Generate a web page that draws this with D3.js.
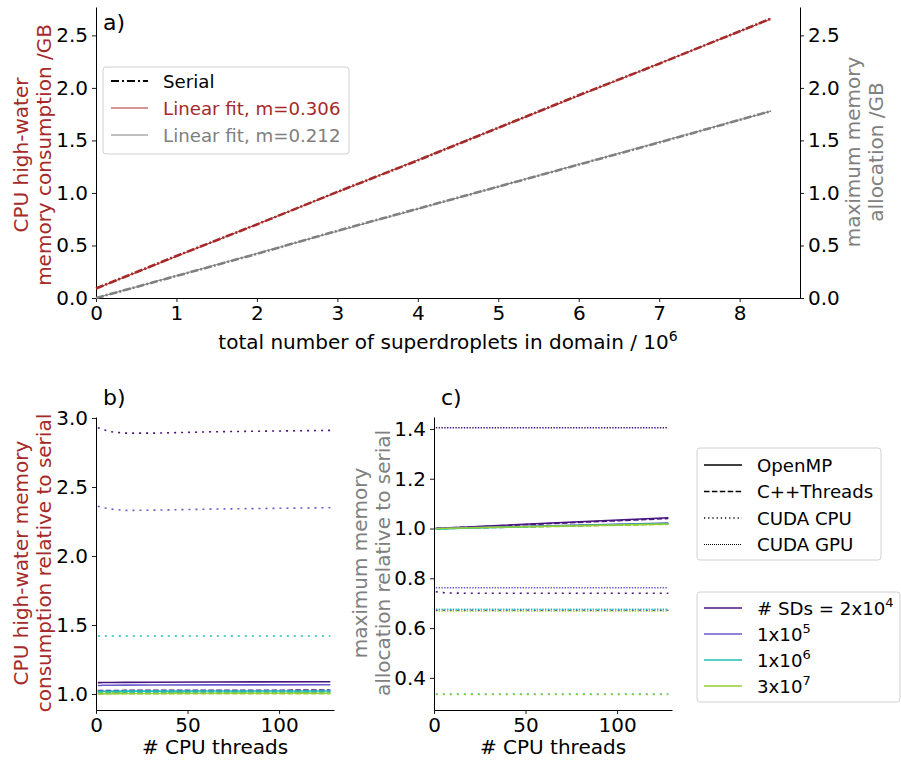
<html>
<head>
<title>Memory consumption</title>
<style>
  body { margin: 0; background: white; }
  text { font-family: "DejaVu Sans", sans-serif; }
</style>
</head>
<body>
<svg id="fig" width="901" height="760"></svg>
<script src="https://cdnjs.cloudflare.com/ajax/libs/d3/7.8.5/d3.min.js"></script>
<script>
// ---- data: panel a (serial runs) ----
var serialSDs = [0, 1, 2, 3, 4, 5, 6, 7, 8.39];            // x10^6 superdroplets
var serialCPU = [0.09, 0.40, 0.70, 1.01, 1.31, 1.62, 1.93, 2.23, 2.66]; // GB
var serialGPU = [0.0, 0.21, 0.42, 0.64, 0.85, 1.06, 1.27, 1.48, 1.78];  // GB
var fitCPU = {m: 0.306, c: 0.09};
var fitGPU = {m: 0.212, c: 0.0};

// ---- data: panels b and c (relative to serial) ----
var threads = [1, 2, 4, 8, 16, 32, 64, 128];
var sizeLabels = ["2", "1", "1", "3"];   // mantissa
var sizePowers = ["4", "5", "6", "7"];
var sizeColors = ["#47167e", "#6a5acd", "#1fbfb3", "#9acd32"];
var backends = ["OpenMP", "C++Threads", "CUDA CPU", "CUDA GPU"];
var backendDash = ["none", "5.5,2.4", "2,5", "1.4,1.4"];

// panel b: CPU high-water memory relative to serial, rows = sizes
var bOpenMP = [
  [1.082, 1.082, 1.083, 1.083, 1.084, 1.085, 1.087, 1.089],
  [1.062, 1.062, 1.063, 1.063, 1.064, 1.065, 1.066, 1.067],
  [1.020, 1.020, 1.020, 1.020, 1.021, 1.021, 1.022, 1.022],
  [1.003, 1.003, 1.003, 1.003, 1.004, 1.004, 1.005, 1.005]];
var bThreads = [
  [1.025, 1.025, 1.025, 1.025, 1.026, 1.026, 1.027, 1.028],
  [1.020, 1.020, 1.020, 1.020, 1.021, 1.021, 1.022, 1.023],
  [1.010, 1.010, 1.010, 1.011, 1.011, 1.011, 1.012, 1.013],
  [1.001, 1.001, 1.001, 1.002, 1.002, 1.002, 1.002, 1.003]];
var bCudaCPU = [
  [2.93, 2.925, 2.915, 2.90, 2.89, 2.89, 2.90, 2.91],
  [2.36, 2.357, 2.35, 2.34, 2.33, 2.332, 2.34, 2.35],
  [1.42, 1.42, 1.42, 1.42, 1.42, 1.42, 1.42, 1.42],
  [1.01, 1.01, 1.01, 1.01, 1.01, 1.01, 1.01, 1.01]];

// panel c: maximum memory allocation relative to serial
var cOpenMP = [
  [1.000, 1.001, 1.001, 1.003, 1.005, 1.011, 1.022, 1.043],
  [1.000, 1.000, 1.001, 1.002, 1.003, 1.006, 1.011, 1.022],
  [0.997, 0.997, 0.998, 0.999, 1.001, 1.004, 1.010, 1.020],
  [1.000, 1.000, 1.000, 1.001, 1.002, 1.005, 1.009, 1.018]];
var cThreads = [
  [1.000, 1.001, 1.001, 1.003, 1.005, 1.010, 1.020, 1.040],
  [1.000, 1.000, 1.001, 1.002, 1.003, 1.005, 1.010, 1.020],
  [0.998, 0.998, 0.999, 1.000, 1.002, 1.004, 1.009, 1.019],
  [1.000, 1.000, 1.000, 1.001, 1.002, 1.004, 1.008, 1.017]];
var cCudaCPU = [
  [0.746, 0.745, 0.743, 0.741, 0.740, 0.740, 0.740, 0.740],
  [0.672, 0.672, 0.672, 0.672, 0.672, 0.672, 0.672, 0.672],
  [0.335, 0.335, 0.335, 0.335, 0.335, 0.335, 0.335, 0.335],
  [0.333, 0.333, 0.333, 0.333, 0.333, 0.333, 0.333, 0.333]];
var cCudaGPU = [
  [1.405, 1.405, 1.405, 1.405, 1.405, 1.405, 1.405, 1.405],
  [0.762, 0.762, 0.762, 0.762, 0.762, 0.762, 0.762, 0.762],
  [0.676, 0.676, 0.676, 0.676, 0.676, 0.676, 0.676, 0.676],
  [0.669, 0.669, 0.669, 0.669, 0.669, 0.669, 0.669, 0.669]];

var red = "#a52a2a", grey = "#808080";
var svg = d3.select("#fig");
var fs = 20, lfs = 18.2;

function styleAxis(g) {
  g.selectAll("text").style("font-size", fs + "px").attr("fill", "#000");
  g.selectAll("line").attr("stroke", "#000").attr("stroke-width", 0.9);
  g.select(".domain").attr("stroke", "#000").attr("stroke-width", 1);
}

// ================= panel a =================
var ax = d3.scaleLinear().domain([0, 8.75]).range([96, 800]);
var ay = d3.scaleLinear().domain([0, 2.77]).range([298, 7]);

svg.append("g").attr("transform", "translate(0,298)")
  .call(d3.axisBottom(ax).ticks(9).tickSize(4).tickSizeOuter(0).tickPadding(4))
  .call(styleAxis);
svg.append("g").attr("transform", "translate(96,0)")
  .call(d3.axisLeft(ay).tickValues([0, 0.5, 1, 1.5, 2, 2.5]).tickFormat(d3.format(".1f")).tickSize(4).tickSizeOuter(0).tickPadding(4))
  .call(styleAxis);
svg.append("g").attr("transform", "translate(800,0)")
  .call(d3.axisRight(ay).tickValues([0, 0.5, 1, 1.5, 2, 2.5]).tickFormat(d3.format(".1f")).tickSize(4).tickSizeOuter(0).tickPadding(4))
  .call(styleAxis);

var lineA = function (ys) {
  return d3.line().x(function (d, i) { return ax(serialSDs[i]); }).y(function (d) { return ay(d); })(ys);
};
svg.append("path").attr("d", lineA(serialGPU)).attr("fill", "none")
  .attr("stroke", grey).attr("stroke-width", 2.6).attr("stroke-dasharray", "8,2,2,2");
svg.append("path").attr("d", lineA(serialCPU)).attr("fill", "none")
  .attr("stroke", red).attr("stroke-width", 2.6).attr("stroke-dasharray", "8,2,2,2");
var xEnd = serialSDs[serialSDs.length - 1];
[[fitGPU, grey], [fitCPU, red]].forEach(function (f) {
  svg.append("line")
    .attr("x1", ax(0)).attr("y1", ay(f[0].c))
    .attr("x2", ax(xEnd)).attr("y2", ay(f[0].c + f[0].m * xEnd))
    .attr("stroke", f[1]).attr("stroke-width", 1);
});

svg.append("text").attr("x", 103).attr("y", 30).style("font-size", "22px").text("a)");

// legend a
var lgA = svg.append("g");
lgA.append("rect").attr("x", 103).attr("y", 67).attr("width", 246).attr("height", 87)
  .attr("rx", 3).attr("fill", "white").attr("stroke", "#d0d0d0");
var aItems = [["Serial", "#000", "8,3,2,3", 2], ["Linear fit, m=" + fitCPU.m.toFixed(3), red, "none", 1],
              ["Linear fit, m=" + fitGPU.m.toFixed(3), grey, "none", 1]];
aItems.forEach(function (it, i) {
  var y = 81 + i * 27;
  lgA.append("line").attr("x1", 111).attr("x2", 148).attr("y1", y).attr("y2", y)
    .attr("stroke", it[1]).attr("stroke-width", it[3]).attr("stroke-dasharray", it[2]);
  lgA.append("text").attr("x", 163).attr("y", y + 6.5).style("font-size", lfs + "px")
    .attr("fill", it[1]).text(it[0]);
});

var xl = svg.append("text").attr("x", 448).attr("y", 349).attr("text-anchor", "middle").style("font-size", fs + "px");
xl.append("tspan").text("total number of superdroplets in domain / 10");
xl.append("tspan").attr("dy", -8).style("font-size", "14px").text("6");

function vlabel(lines, x, cy, color) {
  var t = svg.append("text").attr("transform", "translate(" + x + "," + cy + ") rotate(-90)")
    .attr("text-anchor", "middle").style("font-size", fs + "px").attr("fill", color);
  lines.forEach(function (s, i) {
    t.append("tspan").attr("x", 0).attr("dy", i === 0 ? 0 : 23).text(s);
  });
}
vlabel(["CPU high-water", "memory consumption /GB"], 28, 155, red);
vlabel(["maximum memory", "allocation /GB"], 860, 152, grey);

// ================= panels b and c =================
function panel(x0, yDomain, yTicks, series, label) {
  var x = d3.scaleLinear().domain([0, 130]).range([x0, x0 + 238]);
  var y = d3.scaleLinear().domain(yDomain).range([710, 417]);
  svg.append("g").attr("transform", "translate(0,710)")
    .call(d3.axisBottom(x).tickValues([0, 50, 100]).tickSize(4).tickSizeOuter(0).tickPadding(4))
    .call(styleAxis);
  svg.append("g").attr("transform", "translate(" + x0 + ",0)")
    .call(d3.axisLeft(y).tickValues(yTicks).tickFormat(d3.format(".1f")).tickSize(4).tickSizeOuter(0).tickPadding(4))
    .call(styleAxis);
  var line = d3.line().x(function (d, i) { return x(threads[i]); }).y(function (d) { return y(d); });
  series.forEach(function (s) {
    s.rows.forEach(function (row, k) {
      svg.append("path").attr("d", line(row)).attr("fill", "none")
        .attr("stroke", sizeColors[k]).attr("stroke-width", 1.6)
        .attr("stroke-dasharray", backendDash[s.b]);
    });
  });
  svg.append("text").attr("x", x0 + 7).attr("y", 405).style("font-size", "22px").text(label);
  svg.append("text").attr("x", x0 + 119).attr("y", 754).attr("text-anchor", "middle")
    .style("font-size", fs + "px").text("# CPU threads");
}

panel(96, [0.884, 3.007], [1.0, 1.5, 2.0, 2.5, 3.0],
  [{b: 2, rows: bCudaCPU}, {b: 1, rows: bThreads}, {b: 0, rows: bOpenMP}], "b)");
panel(434, [0.271, 1.448], [0.4, 0.6, 0.8, 1.0, 1.2, 1.4],
  [{b: 3, rows: cCudaGPU}, {b: 2, rows: cCudaCPU}, {b: 1, rows: cThreads}, {b: 0, rows: cOpenMP}], "c)");

vlabel(["CPU high-water memory", "consumption relative to serial"], 28, 563, red);
vlabel(["maximum memory", "allocation relative to serial"], 367, 563, grey);

// legend: backends
var lgB = svg.append("g");
lgB.append("rect").attr("x", 697).attr("y", 448).attr("width", 184).attr("height", 112)
  .attr("rx", 3).attr("fill", "white").attr("stroke", "#d0d0d0");
backends.forEach(function (b, i) {
  var y = 465 + i * 26.5;
  lgB.append("line").attr("x1", 704).attr("x2", 742).attr("y1", y).attr("y2", y)
    .attr("stroke", "#000").attr("stroke-width", i === 3 ? 1 : 1.5)
    .attr("stroke-dasharray", i === 2 ? "1.2,3" : (i === 3 ? "1,1" : backendDash[i]));
  lgB.append("text").attr("x", 757).attr("y", y + 6.5).style("font-size", lfs + "px").text(b);
});

// legend: sizes
var lgC = svg.append("g");
lgC.append("rect").attr("x", 697).attr("y", 592).attr("width", 203).attr("height", 110)
  .attr("rx", 3).attr("fill", "white").attr("stroke", "#d0d0d0");
sizeColors.forEach(function (c, i) {
  var y = 608 + i * 26;
  lgC.append("line").attr("x1", 704).attr("x2", 742).attr("y1", y).attr("y2", y)
    .attr("stroke", c).attr("stroke-width", 1.6);
  var t = lgC.append("text").attr("x", 757).attr("y", y + 6.5).style("font-size", lfs + "px");
  t.append("tspan").text((i === 0 ? "# SDs = " : "") + sizeLabels[i] + "x10");
  t.append("tspan").attr("dy", -8).style("font-size", "13px").text(sizePowers[i]);
});
</script>
</body>
</html>
